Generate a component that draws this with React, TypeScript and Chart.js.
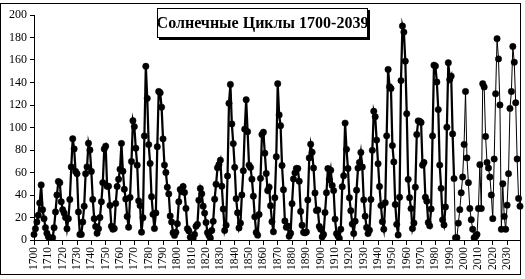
import { useEffect, useRef } from "react";
import { Chart, registerables } from "chart.js";

Chart.register(...registerables);

const TITLE = "Солнечные Циклы 1700-2039";
const START_YEAR = 1700;
const END_YEAR = 2039;
const LABEL_STEP = 10;

const Y_MIN = 0;
const Y_MAX = 200;
const Y_STEP = 20;

// Yearly values
const values1700s = [
  5, 10, 16, 22, 33, 49, 27, 19, 11, 6,
  3, 1, 0, 2, 11, 25, 40, 52, 51, 34,
  27, 24, 20, 10, 19, 36, 65, 90, 81, 61,
  59, 25, 5, 5, 16, 30, 59, 65, 86, 80,
  61, 36, 19, 12, 6, 10, 20, 34, 51, 80.9,
  83.4, 47.7, 47.8, 30.7, 12.2, 9.6, 10.2, 32.4, 47.6, 54.0,
  62.9, 85.9, 61.2, 45.1, 36.4, 20.9, 11.4, 37.8, 69.8, 106.1,
  100.8, 81.6, 66.5, 34.8, 30.6, 7.0, 19.8, 92.5, 154.4, 125.9,
  84.8, 68.1, 38.5, 22.8, 10.2, 24.1, 82.9, 132.0, 130.9, 118.1,
  89.9, 66.6, 60.0, 46.9, 41.0, 21.3, 16.0, 6.4, 4.1, 6.8,
];

const values1800s = [
  14.5, 34.0, 45.0, 43.1, 47.5, 42.2, 28.1, 10.1, 8.1, 2.5,
  0.0, 1.4, 5.0, 12.2, 13.9, 35.4, 45.8, 41.1, 30.1, 23.9,
  15.6, 6.6, 4.0, 1.8, 8.5, 16.6, 36.3, 49.6, 64.2, 67.0,
  70.9, 47.8, 27.5, 8.5, 13.2, 56.9, 121.5, 138.3, 103.2, 85.7,
  64.6, 36.7, 24.2, 10.7, 15.0, 40.1, 61.5, 98.5, 124.7, 96.3,
  66.6, 64.5, 54.1, 39.0, 20.6, 6.7, 4.3, 22.7, 54.8, 93.8,
  95.8, 77.2, 59.1, 44.0, 47.0, 30.5, 16.3, 7.3, 37.6, 74.0,
  139.0, 111.2, 101.6, 66.2, 44.7, 17.0, 11.3, 12.4, 3.4, 6.0,
  32.3, 54.3, 59.7, 63.7, 63.5, 52.2, 25.4, 13.1, 6.8, 6.3,
  7.1, 35.6, 73.0, 85.1, 78.0, 64.0, 41.8, 26.2, 26.7, 12.1,
];

const values1900s = [
  9.5, 2.7, 5.0, 24.4, 42.0, 63.5, 53.8, 62.0, 48.5, 43.9,
  18.6, 5.7, 3.6, 1.4, 9.6, 47.4, 57.1, 103.9, 80.6, 63.6,
  37.6, 26.1, 14.2, 5.8, 16.7, 44.3, 63.9, 69.0, 77.8, 64.9,
  35.7, 21.2, 11.1, 5.7, 8.7, 36.1, 79.7, 114.4, 109.6, 88.8,
  67.8, 47.5, 30.6, 16.3, 9.6, 33.2, 92.6, 151.6, 136.3, 134.7,
  83.9, 69.4, 31.5, 13.9, 4.4, 38.0, 141.7, 190.2, 184.8, 159.0,
  112.3, 53.9, 37.6, 27.9, 10.2, 15.1, 47.0, 93.8, 105.9, 105.5,
  104.5, 66.6, 68.9, 38.0, 34.5, 15.5, 12.6, 27.5, 92.5, 155.4,
  154.6, 140.4, 115.9, 66.6, 45.9, 17.9, 13.4, 29.4, 100.2, 157.6,
  142.6, 145.7, 94.3, 54.6, 2, 2, 15, 27, 42, 56,
];

const values2000s = [
  85, 132, 73, 51, 28, 18, 9.5, 2, 3, 5,
  28, 67, 28, 139, 136, 92, 69, 64, 56, 40,
  19, 72, 130, 179, 161, 120, 9.5, 50, 21, 9.5,
  31, 59, 117, 132, 172, 158, 122, 72, 37, 30,
];

// index from which the thin (later) line is drawn
const THIN_FROM_YEAR = 1993;

const years: string[] = [];
for (let y = START_YEAR; y <= END_YEAR; y++) years.push(String(y));
const sunspots = [...values1700s, ...values1800s, ...values1900s, ...values2000s];

const SERIF = '"Liberation Serif", "Times New Roman", serif';

export default function App() {
  const ref = useRef<HTMLCanvasElement | null>(null);

  useEffect(() => {
    document.body.style.margin = "0";
    const canvas = ref.current;
    if (!canvas) return;

    const thinFrom = THIN_FROM_YEAR - START_YEAR;

    const framePlugin = {
      id: "frameAndTitle",
      afterDraw(chart: any) {
        const ctx = chart.ctx as CanvasRenderingContext2D;
        ctx.save();
        ctx.strokeStyle = "#000";
        ctx.lineWidth = 1;
        ctx.strokeRect(0.5, 3.5, 520, 271);
        // title box with shadow
        ctx.fillStyle = "#000";
        ctx.fillRect(159, 10, 211, 30);
        ctx.fillStyle = "#fff";
        ctx.fillRect(157, 8, 211, 30);
        ctx.strokeRect(157.5, 8.5, 210, 29);
        ctx.font = `bold 16px ${SERIF}`;
        ctx.textAlign = "center";
        ctx.textBaseline = "middle";
        ctx.fillStyle = "#000";
        ctx.fillText(TITLE, 262.5, 24);
        ctx.restore();
      },
    };

    const chart = new Chart(canvas, {
      type: "line",
      data: {
        labels: years,
        datasets: [
          {
            data: sunspots,
            borderColor: "#000",
            backgroundColor: "#000",
            borderWidth: 2.25,
            pointRadius: 3.2,
            pointBackgroundColor: "#000",
            pointBorderColor: "#000",
            pointBorderWidth: 0.5,
            tension: 0,
            segment: {
              borderWidth: (c: any) => (c.p0DataIndex >= thinFrom ? 1 : 2.25),
            },
          } as any,
        ],
      },
      options: {
        animation: false,
        responsive: false,
        layout: { padding: { top: 15, right: 5, left: 0, bottom: 0 } },
        plugins: {
          legend: { display: false },
          tooltip: { enabled: false },
          title: { display: false },
        },
        scales: {
          x: {
            type: "category",
            offset: false,
            grid: {
              display: true,
              drawOnChartArea: false,
              drawTicks: true,
              tickLength: 5,
              color: "#000",
              lineWidth: 1,
            },
            border: { display: true, color: "#000", width: 1 },
            ticks: {
              autoSkip: false,
              maxRotation: 90,
              minRotation: 90,
              padding: 2,
              color: "#000",
              font: { family: SERIF, size: 11.5 },
              callback: (_v: any, i: number) =>
                (Number(years[i]) - START_YEAR) % LABEL_STEP === 0 ? years[i] : null,
            },
            afterFit: (s: any) => {
              s.height = 39;
            },
          },
          y: {
            min: Y_MIN,
            max: Y_MAX,
            ticks: {
              stepSize: Y_STEP,
              color: "#000",
              padding: 3,
              font: { family: SERIF, size: 12 },
            },
            grid: {
              display: true,
              drawOnChartArea: false,
              drawTicks: true,
              tickLength: 4,
              color: "#000",
            },
            border: { display: true, color: "#000", width: 1 },
            afterFit: (s: any) => {
              s.width = 34;
            },
          },
        },
      },
      plugins: [framePlugin],
    } as any);

    return () => chart.destroy();
  }, []);

  return (
    <div style={{ width: 525, height: 279 }}>
      <canvas ref={ref} width={525} height={279} style={{ display: "block" }} />
    </div>
  );
}
